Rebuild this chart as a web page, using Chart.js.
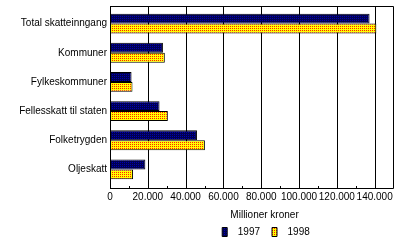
<!DOCTYPE html>
<html>
<head>
<meta charset="utf-8">
<script src="https://cdn.jsdelivr.net/npm/chart.js@4/dist/chart.umd.min.js"></script>
<style>
  html, body { margin: 0; padding: 0; background: #fff; }
  #wrap { width: 400px; height: 243px; position: relative; }
</style>
</head>
<body>
<div id="wrap"><canvas id="c" width="400" height="243"></canvas></div>
<script>
const categories = ['Total skatteinngang', 'Kommuner', 'Fylkeskommuner', 'Fellesskatt til staten', 'Folketrygden', 'Oljeskatt'];
const values1997 = [137300, 28000, 11400, 26200, 46000, 18700];
const values1998 = [140900, 29000, 11900, 30600, 50200, 12200];
const seriesNames = ['1997', '1998'];
const xTickValues = [0, 20000, 40000, 60000, 80000, 100000, 120000, 140000];
const xMax = 150000;
const axisTitle = 'Millioner kroner';

function makePattern(base, dot, cells) {
  const c = document.createElement('canvas');
  c.width = 2; c.height = 2;
  const g = c.getContext('2d');
  g.fillStyle = base; g.fillRect(0, 0, 2, 2);
  g.fillStyle = dot;
  cells.forEach(p => g.fillRect(p[0], p[1], 1, 1));
  return g.createPattern(c, 'repeat');
}
const navyPat = makePattern('#000050', '#0000b0', [[0, 0]]);
const yellowPat = makePattern('#ffff00', '#ff2000', [[0, 0]]);

const fmt = v => String(v).replace(/\B(?=(\d{3})+(?!\d))/g, '.');

const FONT = 'Liberation Sans, Arial, sans-serif';

const framePlugin = {
  id: 'frame',
  beforeDraw(chart) {
    // shift the legend so it sits under the right part of the plot, as in the original
    if (chart.legend) { chart.legend.left = 132; chart.legend.right = 400; }
  },
  beforeDatasetsDraw(chart) {
    const ctx = chart.ctx;
    const xs = chart.scales.x;
    const a = chart.chartArea;
    const top = a.top - 3, bottom = a.bottom + 4;
    ctx.save();
    ctx.strokeStyle = '#000';
    ctx.lineWidth = 1;
    ctx.beginPath();
    xTickValues.forEach(v => {
      const x = Math.round(xs.getPixelForValue(v)) + 0.5;
      ctx.moveTo(x, top); ctx.lineTo(x, bottom + 1);
    });
    for (let v = 10000; v < xMax; v += 20000) {
      const x = Math.round(xs.getPixelForValue(v)) + 0.5;
      ctx.moveTo(x, bottom - 2); ctx.lineTo(x, bottom);
    }
    ctx.stroke();
    ctx.restore();
  },
  afterDatasetsDraw(chart) {
    const ctx = chart.ctx;
    const a = chart.chartArea;
    const top = a.top - 3, bottom = a.bottom + 4;
    ctx.save();
    ctx.strokeStyle = '#000';
    ctx.lineWidth = 1;
    ctx.beginPath();
    ctx.rect(Math.round(a.left) + 0.5, top + 0.5, Math.round(a.right - a.left) - 1, bottom - top);
    ctx.stroke();
    // axis title
    ctx.fillStyle = '#000';
    ctx.font = '10px ' + FONT;
    ctx.textAlign = 'center';
    ctx.textBaseline = 'middle';
    ctx.fillText(axisTitle, a.left + (a.right - a.left) * 0.545, bottom + 27);
    ctx.restore();
  }
};

new Chart(document.getElementById('c'), {
  type: 'bar',
  data: {
    labels: categories,
    datasets: [
      { label: seriesNames[0], data: values1997, backgroundColor: navyPat, borderColor: '#000', borderWidth: 1, borderSkipped: false },
      { label: seriesNames[1], data: values1998, backgroundColor: yellowPat, borderColor: '#000', borderWidth: 1, borderSkipped: false }
    ]
  },
  options: {
    indexAxis: 'y',
    responsive: false,
    animation: false,
    devicePixelRatio: 1,
    layout: { padding: { top: 6, right: 4, left: 0, bottom: -4 } },
    datasets: { bar: { categoryPercentage: 0.68, barPercentage: 1.0 } },
    scales: {
      x: {
        min: 0, max: xMax,
        afterBuildTicks(scale) { scale.ticks = xTickValues.map(v => ({ value: v })); },
        afterFit(scale) { scale.height = 31; },
        grid: { display: false, drawTicks: false },
        border: { display: false },
        ticks: { color: '#000', font: { family: FONT, size: 10 }, padding: 7, maxRotation: 0, autoSkip: false, callback: v => fmt(v) }
      },
      y: {
        grid: { display: false, drawTicks: false },
        border: { display: false },
        ticks: { color: '#000', font: { family: FONT, size: 10 }, padding: 3, autoSkip: false },
        afterFit(scale) { scale.width = 110; }
      }
    },
    plugins: {
      legend: {
        position: 'bottom',
        labels: {
          color: '#000', font: { family: FONT, size: 10 }, boxWidth: 5, boxHeight: 9, padding: 12,
          generateLabels(chart) {
            const items = Chart.defaults.plugins.legend.labels.generateLabels(chart);
            items.forEach(it => { it.text = '  ' + it.text; });
            return items;
          }
        }
      },
      tooltip: { enabled: false }
    }
  },
  plugins: [framePlugin]
});
</script>
</body>
</html>
